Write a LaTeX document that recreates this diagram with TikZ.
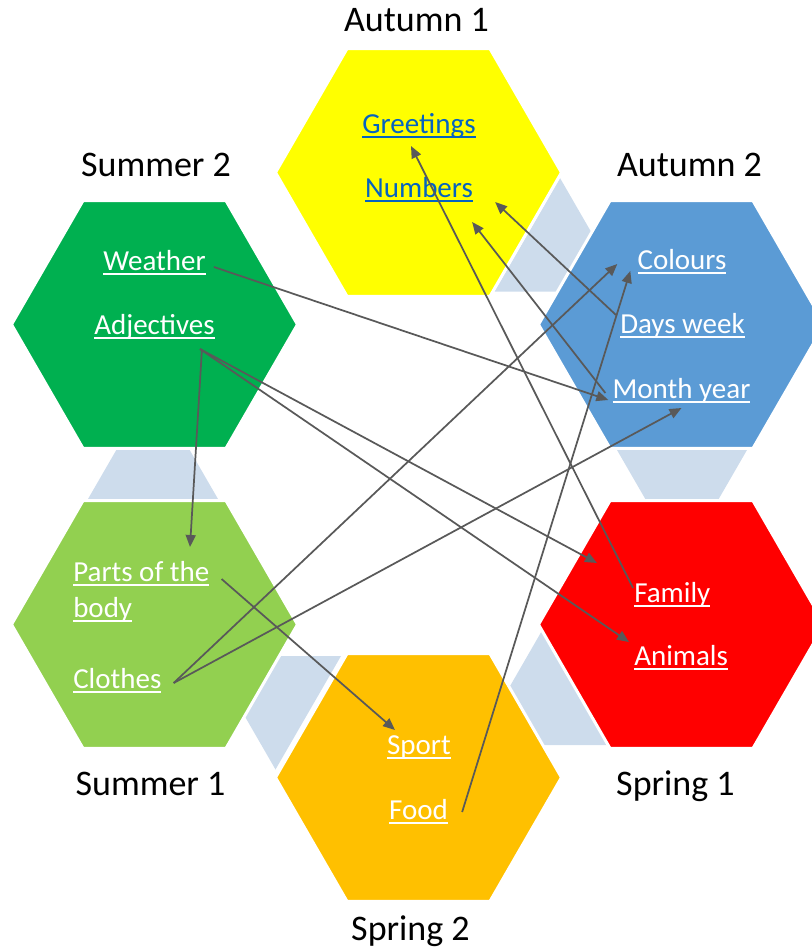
\documentclass[tikz,border=0pt]{standalone}
\usepackage{fontspec}
\setmainfont{Carlito}
\usetikzlibrary{shapes.geometric,arrows.meta,calc}

\definecolor{hexyellow}{HTML}{FFFF00}
\definecolor{hexblue}{HTML}{5B9BD5}
\definecolor{hexred}{HTML}{FF0000}
\definecolor{hexorange}{HTML}{FFC000}
\definecolor{hexlime}{HTML}{92D050}
\definecolor{hexgreen}{HTML}{00B050}
\definecolor{jointblue}{HTML}{CDDCEC}
\definecolor{linkgrey}{HTML}{595959}
\definecolor{webblue}{HTML}{0563C1}

% underlined topic, like a hyperlink
\newcommand\lnk[1]{\setbox0\hbox{#1}\rlap{\rule[-0.17em]{\wd0}{0.08em}}\box0}

\begin{document}
\begin{tikzpicture}
  [
    x=0.75pt, y=-0.75pt,
    hexa/.style={regular polygon,regular polygon sides=6,minimum size=214.5pt,
      inner sep=0pt,draw=white,line width=2.25pt},
    joint/.style={fill=jointblue},
    season/.style={anchor=base,inner sep=0pt,font=\fontsize{27}{32}\selectfont},
    topic/.style={anchor=base,inner sep=0pt,text=white,font=\fontsize{21.75}{27}\selectfont},
    link/.style={draw=linkgrey,line width=1.3pt,-{Triangle[length=9pt,width=7.5pt]}},
  ]
  \clip (0,0) rectangle (812,947);

  % joints between the hexagons
  \fill[joint] (560,178) -- (494.5,291.5) -- (625.5,291.5) -- cycle;
  \fill[joint] (617,450) -- (747,450) -- (682,562.5) -- cycle;
  \fill[joint] (88,499) -- (218,499) -- (153,386.5) -- cycle;
  \fill[joint] (210,656) -- (341,656) -- (275.5,769.5) -- cycle;
  \fill[joint] (476,745) -- (607,745) -- (541.5,631.5) -- cycle;

  % terms
  \node[hexa,fill=hexyellow] (autumnA) at (418.5,172.5) {};
  \node[hexa,fill=hexblue]   (autumnB) at (681.5,324.5) {};
  \node[hexa,fill=hexred]    (springA) at (681.5,624.5) {};
  \node[hexa,fill=hexorange] (springB) at (418.5,777.5) {};
  \node[hexa,fill=hexlime]   (summerA) at (154.5,624.5) {};
  \node[hexa,fill=hexgreen]  (summerB) at (154.5,324.5) {};

  \node[season] (autumn1) at (416.5,31)  {Autumn 1};
  \node[season] (autumn2) at (689.5,176) {Autumn 2};
  \node[season] (summer2) at (156,176)   {Summer 2};
  \node[season] (summer1) at (150.5,795) {Summer 1};
  \node[season] (spring1) at (675.5,795) {Spring 1};
  \node[season] (spring2) at (410.5,940) {Spring 2};

  % topics
  \node[topic,text=webblue] (greet)   at (419,133)   {\lnk{Greetings}};
  \node[topic,text=webblue] (numbers) at (419,197)   {\lnk{Numbers}};
  \node[topic] (colours) at (682,269)   {\lnk{Colours}};
  \node[topic] (days)    at (682.5,333) {\lnk{Days week}};
  \node[topic] (month)   at (681.5,398) {\lnk{Month year}};
  \node[topic] (weather) at (154.5,270) {\lnk{Weather}};
  \node[topic] (adj)     at (154.5,334) {\lnk{Adjectives}};
  \node[topic,anchor=base west] (parts)   at (73,581)  {\lnk{Parts of the}};
  \node[topic,anchor=base west] (body)    at (73,617)  {\lnk{body}};
  \node[topic,anchor=base west] (clothes) at (73,688)  {\lnk{Clothes}};
  \node[topic,anchor=base west] (family)  at (634,602) {\lnk{Family}};
  \node[topic,anchor=base west] (animals) at (634,665) {\lnk{Animals}};
  \node[topic] (sport)   at (419,754)   {\lnk{Sport}};
  \node[topic] (food)    at (418.5,819) {\lnk{Food}};

  % links between topics
  \draw[link] ($(weather.base east)+(8,-3)$) -- ($(month.base west)+(-4,2)$);
  \draw[link] ($(adj.base east)+(-13,15)$) -- ($(parts.base west)+(117,-34)$);
  \draw[link] ($(adj.base east)+(-15,15)$) -- ($(family.base west)+(-37,-39)$);
  \draw[link] ($(adj.base east)+(-15,15)$) -- ($(animals.base west)+(-5,-23)$);
  \draw[link] ($(parts.base east)+(12,-2)$) -- ($(sport.base)+(-24,-24)$);
  \draw[link] ($(clothes.base east)+(12,-5)$) -- ($(colours.base west)+(-20,-5)$);
  \draw[link] ($(clothes.base east)+(12,-5)$) -- ($(month.base)+(0,10)$);
  \draw[link] ($(food.base east)+(14,-7)$) -- ($(colours.base west)+(-7,2)$);
  \draw[link] ($(family.base west)+(-1,-14)$) -- ($(greet.base)+(-8,13)$);
  \draw[link] ($(days.base west)+(-4,-18)$) -- ($(numbers.base east)+(22,5)$);
  \draw[link] ($(month.base west)+(-7,-5)$) -- ($(numbers.base east)+(-1,25)$);
\end{tikzpicture}
\end{document}
